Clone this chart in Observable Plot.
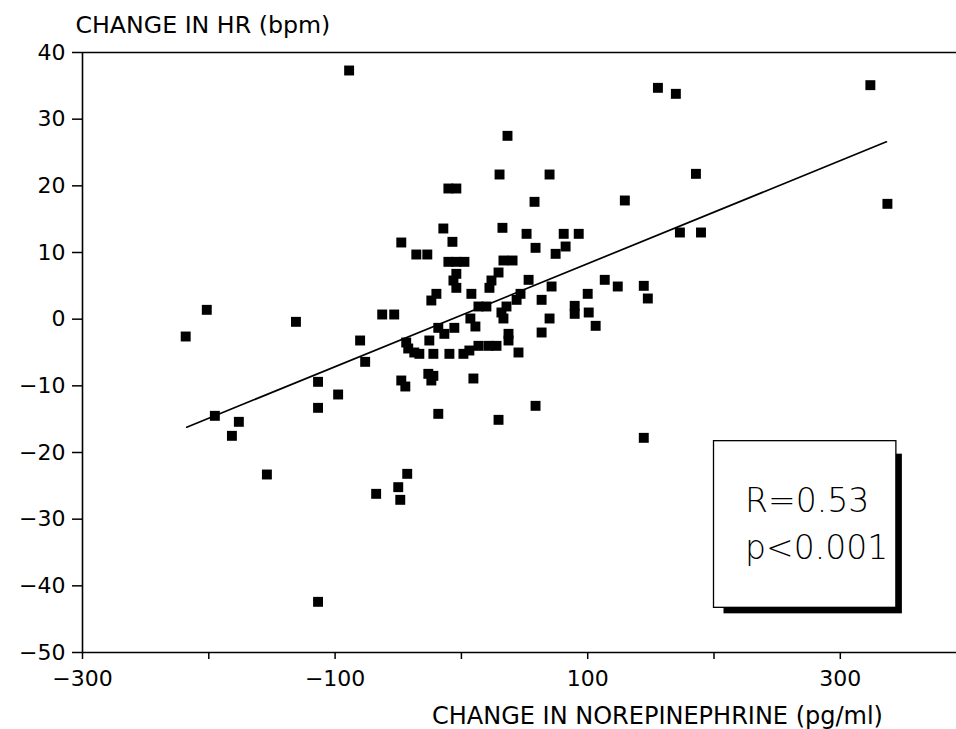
<!DOCTYPE html>
<html>
<head>
<meta charset="utf-8">
<script src="https://cdn.jsdelivr.net/npm/d3@7"></script>
<script src="https://cdn.jsdelivr.net/npm/@observablehq/plot@0.6"></script>
<style>
  html, body { margin: 0; padding: 0; background: white; }
  #chart svg { display: block; }
</style>
</head>
<body>
<div id="chart"></div>
<script>
// Change in norepinephrine (pg/ml) for each subject
const norepinephrine = [
  -218.3, -201.6, -195.2, -176.2, -181.7, -154.0, -131.0, -113.5, -113.5, -97.6,
  -113.5, -88.9, -80.2, -76.2, -67.5, -62.7, -53.2, -50.0, -48.4, -42.9,
  -47.6, -44.4, -47.6,
  -14.3, -7.1, -10.3, -4.0, -35.7, -27.0, -10.3, -4.0, 2.4, -4.0,
  -6.3, -4.0, 7.9, -19.8, -23.8, 13.5, 19.8, 7.1, 11.1, -18.3,
  -5.6, -13.5, -25.4, -43.7, -42.1, -37.3, -33.3, -22.2, -9.5, 1.6,
  6.3, 13.5, 21.4, 27.8, -26.2, -22.2, -23.8, 9.5, -18.3, 29.4,
  58.7, 30.2, 36.5, 32.5, 33.3, 40.5, 29.4, 23.8, 22.2, 35.7,
  31.7, 33.3, 37.3, 37.3, 45.2, 46.8, 43.7, 53.2, 51.6, 58.7,
  57.9, 63.5, 69.8, 63.5, 71.4, 74.6, 69.8,
  81.0, 92.9, 82.5, 173.0, 189.7, 113.5, 123.8, 144.4, 147.6, 100.0,
  89.7, 89.7, 100.8, 106.3, 129.4, 155.6, 169.8, 185.7, 323.8, 337.3,
  144.4
];
// Change in heart rate (bpm) for each subject
const hrChange = [
  -2.6, 1.4, -14.5, -15.4, -17.5, -23.3, -0.4, -9.4, -13.3, -11.3,
  -42.4, 37.3, -3.2, -6.4, -26.2, 0.7, 0.7, -25.2, -27.1, -23.2,
  -9.2, -10.1, 11.5,
  13.6, 11.6, 19.6, 19.6, 9.7, 9.7, 8.6, 8.6, 8.6, 6.8,
  5.8, 4.7, 3.8, 3.8, 2.8, 1.9, 1.9, 0.1, -1.1, -1.3,
  -1.3, -2.2, -3.2, -3.5, -4.4, -5.0, -5.2, -5.2, -5.2, -5.2,
  -4.7, -4.0, -4.0, -4.0, -8.2, -8.5, -9.2, -8.9, -14.2, -15.1,
  -13.0, 21.7, 27.5, 13.7, 8.8, 8.8, 7.0, 5.8, 4.7, 1.9,
  1.0, 0.1, -2.2, -3.2, -5.0, 3.8, 2.9, 5.9, 12.8, 10.7,
  17.6, 2.9, 0.1, -2.0, 4.9, 9.8, 21.7,
  12.8, 12.8, 10.9, 13.0, 13.0, 5.9, 4.9, 5.0, 3.1, 3.8,
  2.0, 0.8, 1.0, -1.0, 17.8, 34.7, 33.8, 21.8, 35.1, 17.3,
  -17.8
];
// Fitted regression line (end points)
const fitX = [-217.5, 336.5];
const fitY = [-16.2, 26.6];
// Tick values and labels
const xTicks = [-300, -200, -100, 0, 100, 200, 300];
const xTickLabels = [-300, -100, 100, 300];
const yTicks = [-50, -40, -30, -20, -10, 0, 10, 20, 30, 40];
// Statistics text
const statLines = ["R=0.53", "p<0.001"];

const points = norepinephrine.map((x, i) => ({x, y: hrChange[i]}));
const fit = fitX.map((x, i) => ({x, y: fitY[i]}));
const fmt = d => String(d).replace("-", "\u2212");

// annotation box placement (data units)
const box = {x1: 200, x2: 344.4, y1: -43.3, y2: -18.3};
const statPos = [{x: 224.6, y: -27.3}, {x: 224.6, y: -34.4}];
const stats = statLines.map((t, i) => ({text: t, ...statPos[i]}));

const plot = Plot.plot({
  width: 956,
  height: 729,
  marginLeft: 82,
  marginRight: 0,
  marginTop: 52,
  marginBottom: 77,
  style: {fontFamily: "'DejaVu Sans', sans-serif", fontSize: "22px", background: "white", color: "black"},
  x: {domain: [-300, 392], label: null},
  y: {domain: [-50, 40], label: null},
  marks: [
    Plot.ruleY([-50], {stroke: "black", strokeWidth: 1.6}),
    Plot.ruleY([40], {stroke: "black", strokeWidth: 1.6}),
    Plot.ruleX([-300], {stroke: "black", strokeWidth: 1.6}),
    Plot.axisX({ticks: xTicks, tickFormat: d => xTickLabels.includes(d) ? fmt(d) : "", tickSize: 7, tickPadding: 11, strokeWidth: 1.5, fontSize: 22, label: null}),
    Plot.axisY({ticks: yTicks, tickFormat: fmt, tickSize: 10, tickPadding: 7, strokeWidth: 1.5, fontSize: 22, label: null}),
    Plot.line(fit, {x: "x", y: "y", stroke: "black", strokeWidth: 1.7}),
    Plot.dot(points, {x: "x", y: "y", symbol: "square", r: 5.6, fill: "black"}),
    Plot.rect([box], {x1: "x1", x2: "x2", y1: "y1", y2: "y2", fill: "black", dx: 6, dy: 6, insetLeft: 4, insetTop: 7}),
    Plot.rect([box], {x1: "x1", x2: "x2", y1: "y1", y2: "y2", fill: "white", stroke: "black", strokeWidth: 1.3}),
    Plot.text(stats, {x: "x", y: "y", text: "text", textAnchor: "start", lineAnchor: "middle", fontSize: 33, fontWeight: 300, fill: "black"}),
    Plot.text(["CHANGE IN HR (bpm)"], {frameAnchor: "top-left", dx: -7, dy: -27, textAnchor: "start", lineAnchor: "middle", fontSize: 23.7, fill: "black"}),
    Plot.text(["CHANGE IN NOREPINEPHRINE (pg/ml)"], {frameAnchor: "bottom", dx: 138, dy: 64, textAnchor: "middle", lineAnchor: "middle", fontSize: 24, fill: "black"})
  ]
});
document.getElementById("chart").appendChild(plot);
</script>
</body>
</html>
